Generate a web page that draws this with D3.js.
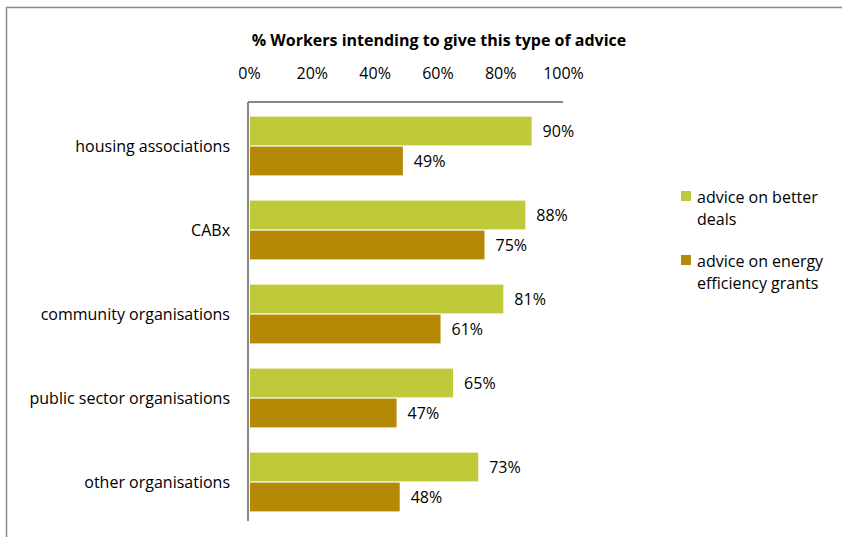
<!DOCTYPE html>
<html>
<head>
<meta charset="utf-8">
<script src="https://cdn.jsdelivr.net/npm/d3@7"></script>
<style>
  html, body { margin: 0; padding: 0; background: #fff; }
  svg { display: block; font-family: "Open Sans", Lato, sans-serif; }
</style>
</head>
<body>
<svg id="chart" width="842" height="537"></svg>
<script>
// Organisation types (top to bottom)
const categories = [
  "housing associations",
  "CABx",
  "community organisations",
  "public sector organisations",
  "other organisations"
];
const seriesNames = ["advice on better deals", "advice on energy efficiency grants"];
const betterDeals = [90, 88, 81, 65, 73];
const energyGrants = [49, 75, 61, 47, 48];
const tickValues = [0, 20, 40, 60, 80, 100];
const colors = ["#BFC93A", "#B58905"];

const FONT = 16;
const svg = d3.select("#chart");

// chart frame
svg.append("rect")
  .attr("x", 6.5).attr("y", 7.5)
  .attr("width", 900).attr("height", 600)
  .attr("fill", "none").attr("stroke", "#8a8a8a").attr("stroke-width", 1.5);

const plot = { left: 249, right: 563, top: 102, bottom: 521 };

const x = d3.scaleLinear().domain([0, 100]).range([plot.left, plot.right]);
const y = d3.scaleBand().domain(categories).range([104, 524]).paddingInner(0.3).paddingOuter(0.15);
const ySub = d3.scaleBand().domain([0, 1]).range([0, y.bandwidth()]).paddingInner(0.04);

// title
svg.append("text")
  .attr("x", 439).attr("y", 46)
  .attr("text-anchor", "middle")
  .attr("font-weight", "bold")
  .attr("font-size", 16)
  .attr("fill", "#000")
  .text("% Workers intending to give this type of advice");

// top axis tick labels
const xAxis = d3.axisTop(x).tickValues(tickValues).tickFormat(d => d + "%").tickSize(0).tickPadding(0);
const gx = svg.append("g").attr("transform", `translate(0,79)`).call(xAxis);
gx.select(".domain").remove();
gx.selectAll("text").attr("font-size", FONT).attr("fill", "#000").attr("font-family", "'Open Sans', Lato, sans-serif");

// axis lines
svg.append("line")
  .attr("x1", plot.left - 1).attr("x2", plot.right)
  .attr("y1", plot.top).attr("y2", plot.top)
  .attr("stroke", "#868686").attr("stroke-width", 2);
svg.append("line")
  .attr("x1", plot.left - 1).attr("x2", plot.left - 1)
  .attr("y1", plot.top).attr("y2", plot.bottom)
  .attr("stroke", "#868686").attr("stroke-width", 2);

// category labels
svg.append("g").selectAll("text")
  .data(categories).join("text")
  .attr("x", 230)
  .attr("y", d => y(d) + y.bandwidth() / 2)
  .attr("dy", "0.35em")
  .attr("text-anchor", "end")
  .attr("font-size", FONT)
  .attr("fill", "#000")
  .text(d => d);

// bars
const rows = categories.map((c, i) => ({ cat: c, vals: [betterDeals[i], energyGrants[i]] }));
const groups = svg.append("g").selectAll("g")
  .data(rows).join("g")
  .attr("transform", d => `translate(0,${y(d.cat)})`);

groups.selectAll("rect")
  .data(d => d.vals.map((v, k) => ({ v, k })))
  .join("rect")
  .attr("x", x(0) + 1)
  .attr("y", d => ySub(d.k))
  .attr("width", d => x(d.v) - x(0) - 1)
  .attr("height", ySub.bandwidth())
  .attr("fill", d => colors[d.k]);

groups.selectAll("text")
  .data(d => d.vals.map((v, k) => ({ v, k })))
  .join("text")
  .attr("x", d => x(d.v) + 11)
  .attr("y", d => ySub(d.k) + ySub.bandwidth() / 2)
  .attr("dy", "0.35em")
  .attr("font-size", FONT)
  .attr("fill", "#000")
  .text(d => d.v + "%");

// legend
const legendLines = [["advice on better", "deals"], ["advice on energy", "efficiency grants"]];
const legend = svg.append("g");
legendLines.forEach((lines, k) => {
  const top = 197 + k * 64;
  legend.append("rect")
    .attr("x", 681).attr("y", top - 6)
    .attr("width", 10).attr("height", 10)
    .attr("fill", colors[k]);
  lines.forEach((t, j) => {
    legend.append("text")
      .attr("x", 697).attr("y", top + j * 22)
      .attr("dy", "0.35em")
      .attr("font-size", FONT)
      .attr("fill", "#000")
      .text(t);
  });
});
</script>
</body>
</html>
